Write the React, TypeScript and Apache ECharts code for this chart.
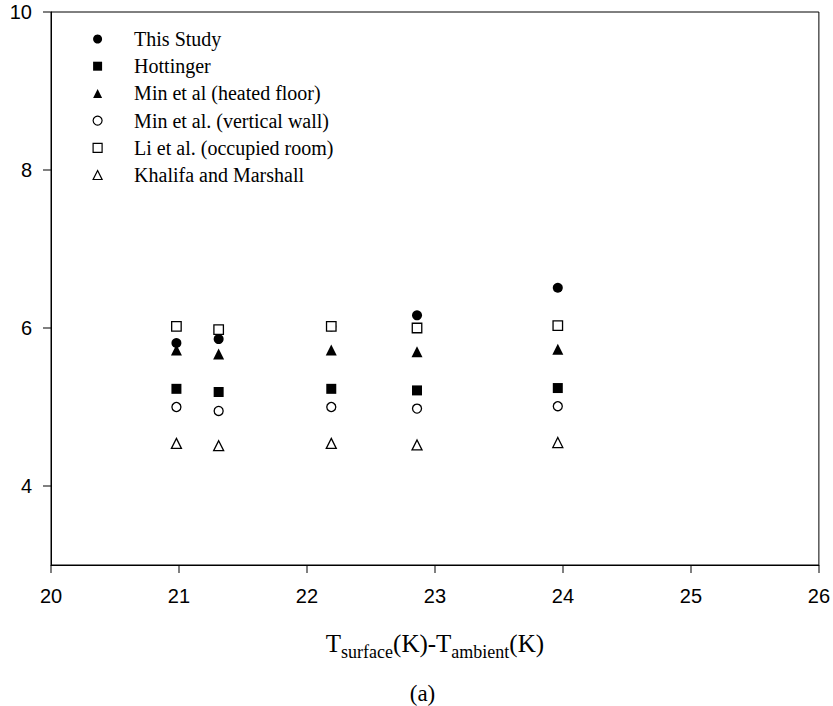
import React, { useEffect, useRef } from "react";
import * as echarts from "echarts";

const xValues = [20.98, 21.31, 22.19, 22.86, 23.96];
const thisStudy = [5.81, 5.86, 6.02, 6.16, 6.51];
const hottinger = [5.23, 5.19, 5.23, 5.21, 5.24];
const minHeatedFloor = [5.72, 5.67, 5.72, 5.70, 5.73];
const minVerticalWall = [5.0, 4.95, 5.0, 4.98, 5.01];
const liOccupiedRoom = [6.02, 5.98, 6.02, 6.0, 6.03];
const khalifaMarshall = [4.54, 4.51, 4.54, 4.52, 4.55];

const seriesNames = [
  "This Study",
  "Hottinger",
  "Min et al (heated floor)",
  "Min et al. (vertical wall)",
  "Li et al. (occupied room)",
  "Khalifa and Marshall",
];
const xTickValues = [20, 21, 22, 23, 24, 25, 26];
const yTickValues = [4, 6, 8, 10];

const SERIF = "'Liberation Serif', 'Times New Roman', serif";
const SANS = "'Liberation Sans', Arial, sans-serif";

export default function App() {
  const ref = useRef<HTMLDivElement>(null);

  useEffect(() => {
    if (!ref.current) return;
    const chart = echarts.init(ref.current, null, { renderer: "svg" });
    const zip = (ys: number[]) => xValues.map((x, i) => [x, ys[i]]);
    const filled = { color: "#000", opacity: 1 };
    const open = { color: "#fff", borderColor: "#000", borderWidth: 1.3, opacity: 1 };

    const captionGraphic: any = {
      type: "text",
      x: 422.5,
      y: 693,
      style: {
        text: "(a)",
        font: `23px ${SERIF}`,
        fill: "#000",
        textAlign: "center",
        textVerticalAlign: "middle",
      },
    };

    chart.setOption({
      animation: false,
      backgroundColor: "#fff",
      grid: {
        left: 51,
        right: 13,
        top: 12,
        bottom: 141,
        show: true,
        borderColor: "#000",
        borderWidth: 1,
        backgroundColor: "transparent",
      },
      legend: {
        orient: "vertical",
        left: 92.5,
        top: 29,
        padding: 0,
        itemWidth: 9,
        itemHeight: 9,
        itemGap: 7.2,
        selectedMode: false,
        textStyle: {
          fontFamily: SERIF,
          fontSize: 20,
          color: "#000",
          lineHeight: 20,
          padding: [0, 0, 0, 27],
        },
        itemStyle: { borderWidth: 1.2, opacity: 1 },
        data: [
          { name: seriesNames[0], icon: "circle" },
          { name: seriesNames[1], icon: "rect" },
          { name: seriesNames[2], icon: "triangle" },
          { name: seriesNames[3], icon: "circle" },
          { name: seriesNames[4], icon: "rect" },
          { name: seriesNames[5], icon: "triangle" },
        ],
      },
      xAxis: {
        type: "value",
        min: 20,
        max: 26,
        interval: 1,
        axisLine: { show: true, onZero: false, lineStyle: { color: "#000", width: 1 } },
        axisTick: { show: false },
        splitLine: { show: false },
        axisLabel: { fontFamily: SANS, fontSize: 20, color: "#000", margin: 21 },
        name: "{m|T}{s|surface}{m|(K)-T}{s|ambient}{m|(K)}",
        nameLocation: "middle",
        nameGap: 61,
        nameTextStyle: {
          rich: {
            m: { fontFamily: SERIF, fontSize: 25, color: "#000" },
            s: { fontFamily: SERIF, fontSize: 18, color: "#000", padding: [17, 0, 0, 0] },
          },
        },
      },
      yAxis: {
        type: "value",
        min: 3,
        max: 10,
        interval: 1,
        axisLine: { show: true, onZero: false, lineStyle: { color: "#000", width: 1 } },
        axisTick: { show: false },
        splitLine: { show: false },
        axisLabel: {
          fontFamily: SANS,
          fontSize: 20,
          color: "#000",
          margin: 19,
          customValues: yTickValues,
        },
      },
      graphic: [captionGraphic],
      series: [
        { type: "scatter", name: seriesNames[0], data: zip(thisStudy), symbol: "circle", symbolSize: 10, itemStyle: filled },
        { type: "scatter", name: seriesNames[1], data: zip(hottinger), symbol: "rect", symbolSize: 10, itemStyle: filled },
        { type: "scatter", name: seriesNames[2], data: zip(minHeatedFloor), symbol: "triangle", symbolSize: 11, itemStyle: filled },
        { type: "scatter", name: seriesNames[3], data: zip(minVerticalWall), symbol: "circle", symbolSize: 9, itemStyle: open },
        { type: "scatter", name: seriesNames[4], data: zip(liOccupiedRoom), symbol: "rect", symbolSize: 9.5, itemStyle: open },
        { type: "scatter", name: seriesNames[5], data: zip(khalifaMarshall), symbol: "triangle", symbolSize: 10, itemStyle: open },
      ],
    });

    // Outward tick marks, positioned through the chart's own axis scales
    const TICK = 8;
    const yBottom = chart.convertToPixel({ yAxisIndex: 0 }, 3) as number;
    const xLeft = chart.convertToPixel({ xAxisIndex: 0 }, 20) as number;
    const xTicks = xTickValues.map((v) => {
      const px = Math.round(chart.convertToPixel({ xAxisIndex: 0 }, v) as number);
      return {
        type: "rect",
        silent: true,
        z: 100,
        shape: { x: px - 0.5, y: yBottom, width: 1, height: TICK },
        style: { fill: "#000" },
      };
    });
    const yTicks = yTickValues.map((v) => {
      const py = Math.round(chart.convertToPixel({ yAxisIndex: 0 }, v) as number);
      return {
        type: "rect",
        silent: true,
        z: 100,
        shape: { x: xLeft - TICK, y: py - 0.5, width: TICK, height: 1 },
        style: { fill: "#000" },
      };
    });
    chart.setOption({ graphic: [captionGraphic, ...xTicks, ...yTicks] });

    return () => chart.dispose();
  }, []);

  return (
    <div
      ref={ref}
      style={{ position: "absolute", left: 0, top: 0, width: 833, height: 706, background: "#fff" }}
    />
  );
}
